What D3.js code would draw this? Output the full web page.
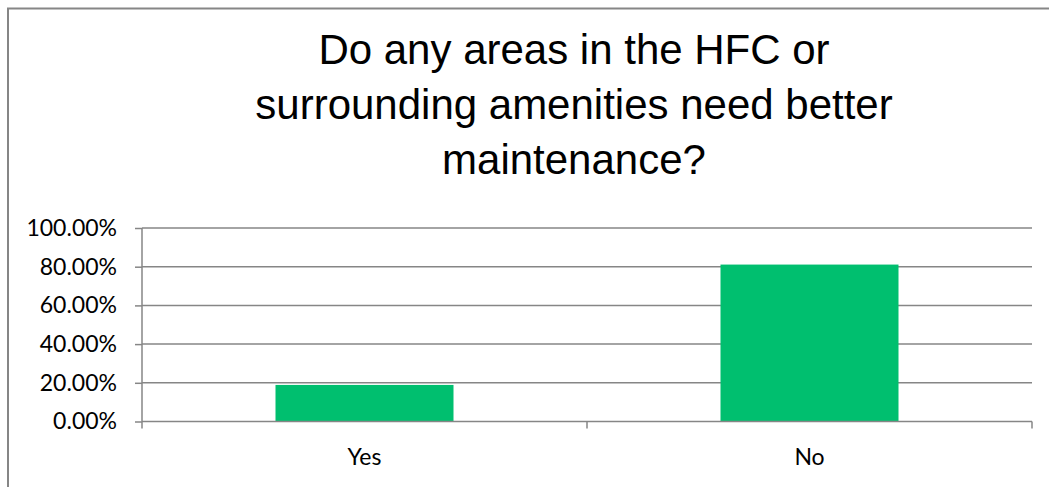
<!DOCTYPE html>
<html>
<head>
<meta charset="utf-8">
<script src="https://cdn.jsdelivr.net/npm/d3@7"></script>
<style>
  html, body { margin: 0; padding: 0; background: #fff; }
  svg { display: block; }
</style>
</head>
<body>
<script>
// Survey answers and their shares (%)
const categories = ["Yes", "No"];
const values = [18.9, 81.1];
const yTicks = [0, 20, 40, 60, 80, 100];
const titleLines = ["Do any areas in the HFC or", "surrounding amenities need better", "maintenance?"];

const W = 1049, H = 487;
const margin = { left: 142, right: 17, top: 228, bottom: 65.5 };
const plotW = W - margin.left - margin.right;
const plotH = H - margin.top - margin.bottom;

const svg = d3.select("body").append("svg").attr("width", W).attr("height", H);

// chart frame
svg.append("rect")
  .attr("x", 8).attr("y", 8.5).attr("width", W + 10).attr("height", H + 10)
  .attr("fill", "#fff").attr("stroke", "#868686").attr("stroke-width", 2);

// title
svg.append("text")
  .attr("text-anchor", "middle")
  .attr("font-family", "Liberation Sans, Arial, sans-serif")
  .attr("font-size", 42)
  .attr("fill", "#000")
  .selectAll("tspan").data(titleLines).join("tspan")
  .attr("x", 574)
  .attr("y", (d, i) => 64 + i * 55)
  .text(d => d);

const g = svg.append("g").attr("transform", `translate(${margin.left},${margin.top})`);

const x = d3.scaleBand().domain(categories).range([0, plotW]).paddingInner(0.6).paddingOuter(0.3);
const y = d3.scaleLinear().domain([0, 100]).range([plotH, 0]);

// horizontal gridlines
g.append("g").selectAll("line").data(yTicks.filter(t => t > 0)).join("line")
  .attr("x1", 0).attr("x2", plotW)
  .attr("y1", d => y(d)).attr("y2", d => y(d))
  .attr("stroke", "#868686").attr("stroke-width", 1.5);

// bars
g.append("g").selectAll("rect").data(categories).join("rect")
  .attr("x", d => x(d))
  .attr("width", x.bandwidth())
  .attr("y", (d, i) => y(values[i]))
  .attr("height", (d, i) => plotH - y(values[i]))
  .attr("fill", "#00BF6F");

// y axis
const yAxis = d3.axisLeft(y).tickValues(yTicks).tickSize(7).tickPadding(18)
  .tickFormat(d => d.toFixed(2) + "%");
const ya = g.append("g").call(yAxis);
ya.select(".domain").attr("stroke", "#868686").attr("stroke-width", 1.5).attr("d", `M0,${plotH}V0`);
ya.selectAll(".tick line").attr("stroke", "#868686").attr("stroke-width", 1.5);
ya.selectAll(".tick text")
  .attr("font-family", "Lato, Carlito, Calibri, sans-serif")
  .attr("font-size", 23).attr("fill", "#000");

// x axis: boundary ticks between categories
const step = x.step();
const xa = g.append("g").attr("transform", `translate(0,${plotH})`);
xa.append("line").attr("x1", 0).attr("x2", plotW).attr("y1", 0).attr("y2", 0)
  .attr("stroke", "#868686").attr("stroke-width", 1.5);
xa.selectAll("line.b").data(d3.range(categories.length + 1)).join("line")
  .attr("class", "b")
  .attr("x1", i => i * step).attr("x2", i => i * step)
  .attr("y1", 0).attr("y2", 7)
  .attr("stroke", "#868686").attr("stroke-width", 1.5);
xa.selectAll("text").data(categories).join("text")
  .attr("x", d => x(d) + x.bandwidth() / 2)
  .attr("y", 43)
  .attr("text-anchor", "middle")
  .attr("font-family", "Lato, Carlito, Calibri, sans-serif")
  .attr("font-size", 23).attr("fill", "#000")
  .text(d => d);
</script>
</body>
</html>
